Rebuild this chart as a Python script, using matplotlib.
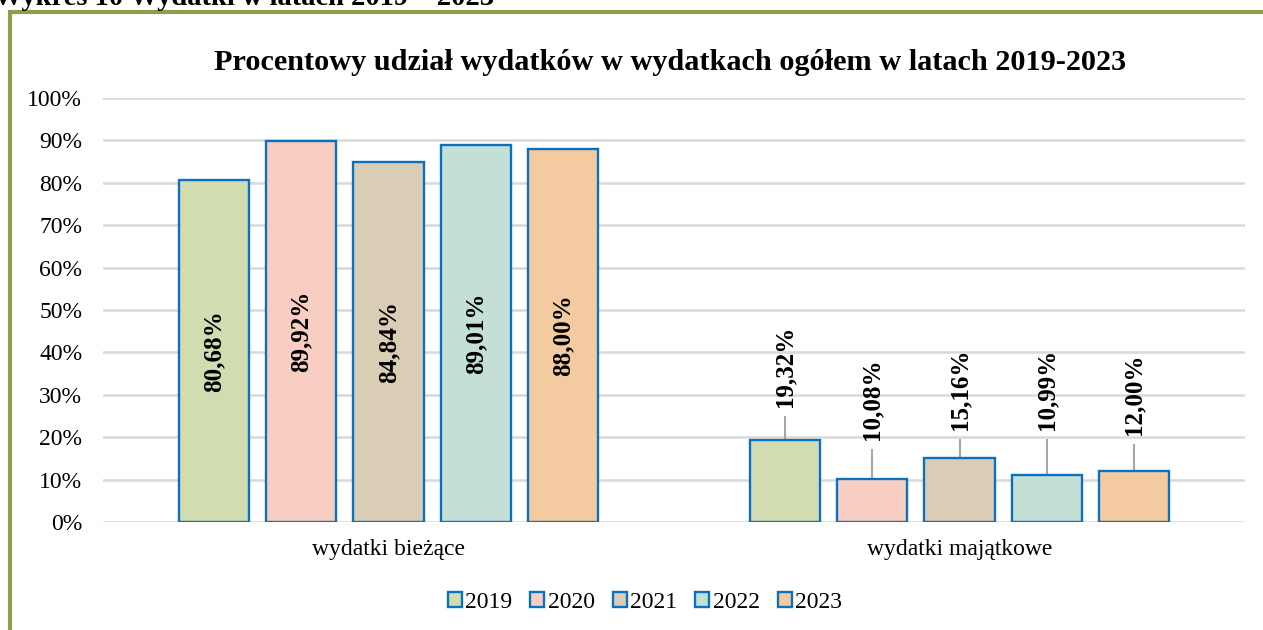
import numpy as np
import matplotlib.pyplot as plt
from matplotlib.patches import Rectangle, Patch

categories = ['wydatki bieżące', 'wydatki majątkowe']
years = ['2019', '2020', '2021', '2022', '2023']
values = {
    '2019': [80.68, 19.32],
    '2020': [89.92, 10.08],
    '2021': [84.84, 15.16],
    '2022': [89.01, 10.99],
    '2023': [88.00, 12.00],
}
colors = ['#D1DCB1', '#F8CEC3', '#D9CDB5', '#C4DFD5', '#F4CBA0']
edge = '#0A70C0'
# label bottom (in %) for the outside labels of the second group
label_base = [27.1, 19.3, 21.7, 21.7, 20.5]

plt.rcParams['font.family'] = ['Liberation Serif', 'DejaVu Serif']

fig = plt.figure(figsize=(12.63, 6.30), dpi=100)
ax = fig.add_axes([103 / 1263, 1 - 522 / 630, (1245 - 103) / 1263, (522 - 98) / 630])

x = np.arange(len(categories))
step = 0.153
width = 0.1226
for i, yr in enumerate(years):
    pos = x + (i - 2) * step
    vals = values[yr]
    ax.bar(pos, vals, width, color=colors[i], edgecolor=edge, linewidth=1.7, zorder=3, label=yr)
    # label inside first bar
    lab = f'{vals[0]:.2f}%'.replace('.', ',')
    ax.text(pos[0], vals[0] / 2, lab, rotation=90, ha='center', va='center',
            fontsize=18, fontweight='bold', zorder=4)
    # label above second bar with leader line
    lab = f'{vals[1]:.2f}%'.replace('.', ',')
    ax.text(pos[1], label_base[i], lab, rotation=90, ha='center', va='bottom',
            fontsize=18, fontweight='bold', zorder=4)
    ax.plot([pos[1], pos[1]], [vals[1], label_base[i] - 2.4], color='#A6A6A6', lw=1.5, zorder=2)

ax.set_xlim(-0.5, 1.5)
ax.set_ylim(0, 100)
ax.set_yticks(np.arange(0, 101, 10))
ax.set_yticklabels([f'{v}%' for v in range(0, 101, 10)], fontsize=17)
ax.set_xticks(x)
ax.set_xticklabels(categories, fontsize=17)
ax.tick_params(axis='y', length=0, pad=15)
ax.tick_params(axis='x', length=0, pad=12)
ax.yaxis.grid(True, color='#D9D9D9', lw=1.8, zorder=0)
ax.set_axisbelow(True)
for s in ax.spines.values():
    s.set_visible(False)

handles = [Patch(facecolor=c, edgecolor=edge, linewidth=1.7, label=y) for c, y in zip(colors, years)]
fig.legend(handles=handles, loc='center', bbox_to_anchor=(645 / 1263, 1 - 602 / 630), ncol=5,
           frameon=False, fontsize=17, handlelength=0.6, handleheight=0.6, handletextpad=0.15,
           columnspacing=0.75)

fig.text(670 / 1263, 1 - 62 / 630, 'Procentowy udział wydatków w wydatkach ogółem w latach 2019-2023',
         ha='center', va='center', fontsize=21.8, fontweight='bold')
fig.text(-0.005, 1 - 5 / 630, 'Wykres 10 Wydatki w latach 2019 – 2023', ha='left', va='baseline',
         fontsize=20.5, fontweight='bold')

fig.patches.append(Rectangle((9.5 / 1263, -0.05), 1.1, 1 - 12 / 630 + 0.05, transform=fig.transFigure,
                             fill=False, edgecolor='#8BA04A', linewidth=3))

fig.savefig('out.png', dpi=100)
